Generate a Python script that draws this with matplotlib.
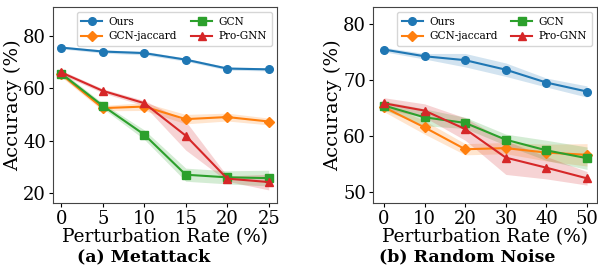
import matplotlib.pyplot as plt
import numpy as np

plt.rcParams['font.family'] = 'DejaVu Serif'

# (a) Metattack
x_meta = [0, 5, 10, 15, 20, 25]
ours_meta = [75.5, 74.0, 73.4, 70.9, 67.5, 67.2]
ours_meta_std = [0.5, 0.6, 0.7, 0.6, 0.6, 0.6]
jac_meta = [65.3, 52.4, 53.0, 48.2, 49.0, 47.3]
jac_meta_std = [1.0, 1.0, 1.5, 1.8, 1.5, 1.3]
gcn_meta = [65.6, 53.3, 42.3, 27.0, 26.0, 25.7]
gcn_meta_std = [1.0, 1.0, 1.8, 2.5, 2.5, 3.0]
pro_meta = [66.0, 59.0, 54.3, 41.9, 25.5, 24.2]
pro_meta_std = [0.8, 0.8, 1.0, 5.5, 1.0, 3.0]

# (b) Random noise
x_rand = [0, 10, 20, 30, 40, 50]
ours_rand = [75.4, 74.2, 73.5, 71.8, 69.5, 67.9]
ours_rand_std = [0.4, 0.5, 1.2, 1.2, 0.8, 1.0]
jac_rand = [65.1, 61.5, 57.6, 57.8, 57.0, 56.6]
jac_rand_std = [0.8, 1.2, 1.0, 1.0, 1.5, 2.0]
gcn_rand = [65.4, 63.3, 62.3, 59.3, 57.4, 56.0]
gcn_rand_std = [0.8, 1.5, 1.0, 1.0, 1.8, 2.0]
pro_rand = [65.8, 64.5, 61.2, 56.1, 54.3, 52.4]
pro_rand_std = [1.0, 1.2, 2.0, 3.0, 2.0, 1.2]

names = ['Ours', 'GCN-jaccard', 'GCN', 'Pro-GNN']
colors = ['#1f77b4', '#ff7f0e', '#2ca02c', '#d62728']
markers = ['o', 'D', 's', '^']

fig = plt.figure(figsize=(5.98, 2.68), dpi=100)
ax1 = fig.add_axes([0.0886, 0.2425, 0.3746, 0.7315])
ax2 = fig.add_axes([0.6237, 0.2425, 0.3750, 0.7315])


def draw(ax, x, series):
    for (m, s), name, c, mk in zip(series, names, colors, markers):
        m = np.array(m)
        s = np.array(s)
        ax.fill_between(x, m - s, m + s, color=c, alpha=0.2, linewidth=0)
        ax.plot(x, m, color=c, marker=mk, markersize=5.5, linewidth=1.5, label=name)
    ax.set_xticks(x)
    ax.tick_params(labelsize=13, length=3, pad=2)
    ax.set_xlabel('Perturbation Rate (%)', fontsize=13.3, labelpad=0)
    ax.set_ylabel('Accuracy (%)', fontsize=14, labelpad=1)
    ax.legend(ncol=2, fontsize=7.6, loc='upper right', handlelength=2.0,
              columnspacing=1.3, borderpad=0.45, labelspacing=0.4,
              handletextpad=0.6)
    for sp in ax.spines.values():
        sp.set_color('#444444')


draw(ax1, x_meta, [(ours_meta, ours_meta_std), (jac_meta, jac_meta_std),
                   (gcn_meta, gcn_meta_std), (pro_meta, pro_meta_std)])
ax1.set_xlim(-1, 26)
ax1.set_ylim(16.2, 91)
ax1.set_yticks([20, 40, 60, 80])

draw(ax2, x_rand, [(ours_rand, ours_rand_std), (jac_rand, jac_rand_std),
                   (gcn_rand, gcn_rand_std), (pro_rand, pro_rand_std)])
ax2.set_xlim(-2.7, 52.5)
ax2.set_ylim(48, 83)
ax2.set_yticks([50, 60, 70, 80])

fig.text(0.241, 0.025, '(a) Metattack', fontsize=12.5, fontweight='bold', ha='center')
fig.text(0.782, 0.025, '(b) Random Noise', fontsize=12.5, fontweight='bold', ha='center')

fig.savefig('out.png', dpi=100)
